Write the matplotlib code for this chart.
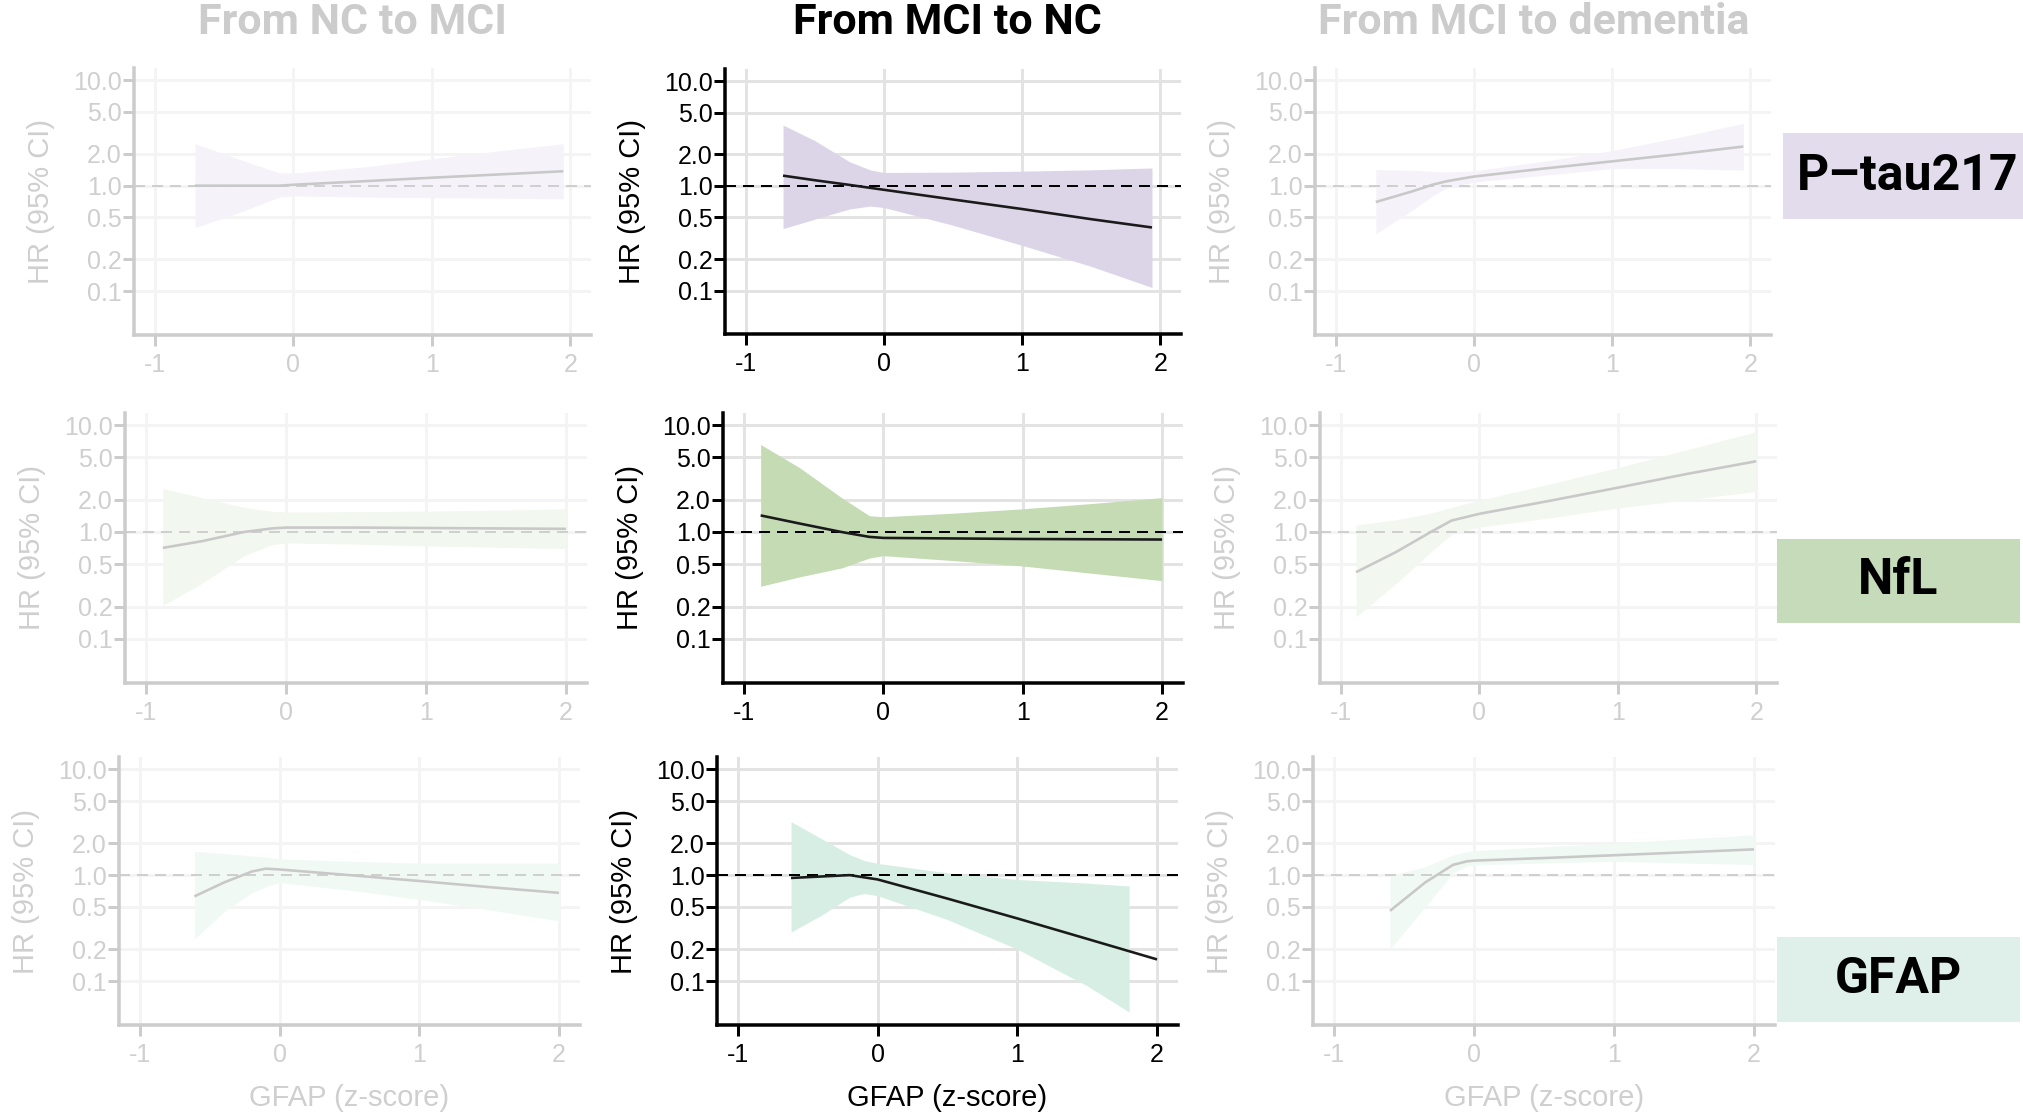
import matplotlib
matplotlib.use("Agg")
import matplotlib.pyplot as plt
from matplotlib.patches import Rectangle
from matplotlib.ticker import NullLocator, FixedLocator, FixedFormatter

# ---------------- data ----------------
col_titles = ["From NC to MCI", "From MCI to NC", "From MCI to dementia"]
row_labels = ["P\u2013tau217", "NfL", "GFAP"]
x_label = "GFAP (z-score)"
y_label = "HR (95% CI)"
y_ticks = [0.1, 0.2, 0.5, 1.0, 2.0, 5.0, 10.0]
y_tick_labels = ["0.1", "0.2", "0.5", "1.0", "2.0", "5.0", "10.0"]
x_ticks = [-1, 0, 1, 2]

# P-tau217, NC -> MCI
ptau_ncmci_x = [-0.71, -0.4, -0.1, 0.0, 0.5, 1.0, 1.5, 1.95]
ptau_ncmci_hr = [1.0, 1.0, 1.0, 1.02, 1.1, 1.19, 1.28, 1.37]
ptau_ncmci_lo = [0.40, 0.55, 0.78, 0.80, 0.78, 0.77, 0.76, 0.75]
ptau_ncmci_hi = [2.5, 1.8, 1.32, 1.32, 1.5, 1.8, 2.15, 2.5]

# P-tau217, MCI -> NC
ptau_mcinc_x = [-0.73, -0.5, -0.25, -0.1, 0.0, 0.5, 1.0, 1.5, 1.94]
ptau_mcinc_hr = [1.25, 1.13, 1.02, 0.956, 0.916, 0.74, 0.60, 0.48, 0.40]
ptau_mcinc_lo = [0.39, 0.48, 0.60, 0.64, 0.62, 0.42, 0.27, 0.17, 0.107]
ptau_mcinc_hi = [3.8, 2.7, 1.7, 1.42, 1.34, 1.35, 1.38, 1.42, 1.48]

# P-tau217, MCI -> dementia
ptau_mcidem_x = [-0.71, -0.45, -0.3, -0.2, 0.0, 0.5, 1.0, 1.5, 1.95]
ptau_mcidem_hr = [0.70, 0.88, 1.02, 1.10, 1.22, 1.45, 1.70, 2.0, 2.35]
ptau_mcidem_lo = [0.35, 0.58, 0.80, 0.95, 1.08, 1.25, 1.45, 1.45, 1.40]
ptau_mcidem_hi = [1.42, 1.40, 1.37, 1.35, 1.38, 1.70, 2.15, 2.9, 3.9]

# NfL, NC -> MCI
nfl_ncmci_x = [-0.88, -0.6, -0.3, -0.1, 0.0, 0.5, 1.0, 1.5, 2.0]
nfl_ncmci_hr = [0.71, 0.82, 1.0, 1.08, 1.10, 1.10, 1.09, 1.08, 1.07]
nfl_ncmci_lo = [0.205, 0.33, 0.60, 0.76, 0.79, 0.77, 0.74, 0.72, 0.70]
nfl_ncmci_hi = [2.55, 2.1, 1.7, 1.56, 1.54, 1.55, 1.57, 1.60, 1.65]

# NfL, MCI -> NC
nfl_mcinc_x = [-0.88, -0.6, -0.3, -0.1, 0.0, 0.5, 1.0, 1.5, 2.0]
nfl_mcinc_hr = [1.43, 1.20, 1.0, 0.90, 0.88, 0.87, 0.86, 0.855, 0.85]
nfl_mcinc_lo = [0.31, 0.38, 0.46, 0.57, 0.60, 0.54, 0.48, 0.41, 0.35]
nfl_mcinc_hi = [6.6, 4.0, 2.1, 1.42, 1.39, 1.50, 1.65, 1.85, 2.1]

# NfL, MCI -> dementia
nfl_mcidem_x = [-0.89, -0.6, -0.35, -0.2, 0.0, 0.5, 1.0, 1.5, 2.0]
nfl_mcidem_hr = [0.42, 0.65, 1.0, 1.28, 1.48, 1.95, 2.6, 3.5, 4.6]
nfl_mcidem_lo = [0.16, 0.33, 0.65, 0.95, 1.11, 1.35, 1.68, 2.0, 2.4]
nfl_mcidem_hi = [1.16, 1.30, 1.50, 1.70, 1.98, 2.8, 4.0, 5.9, 8.7]

# GFAP, NC -> MCI
gfap_ncmci_x = [-0.61, -0.4, -0.2, -0.1, 0.0, 0.5, 1.0, 1.5, 2.0]
gfap_ncmci_hr = [0.63, 0.85, 1.08, 1.15, 1.13, 1.0, 0.88, 0.77, 0.68]
gfap_ncmci_lo = [0.25, 0.45, 0.68, 0.78, 0.85, 0.72, 0.59, 0.47, 0.37]
gfap_ncmci_hi = [1.68, 1.60, 1.52, 1.48, 1.42, 1.35, 1.30, 1.30, 1.30]

# GFAP, MCI -> NC (band stops before the line)
gfap_mcinc_x = [-0.62, -0.2, 0.0, 0.5, 1.0, 1.5, 2.0]
gfap_mcinc_hr = [0.94, 1.0, 0.91, 0.60, 0.39, 0.25, 0.16]
gfap_mcinc_band_x = [-0.62, -0.4, -0.2, -0.1, 0.0, 0.5, 1.0, 1.5, 1.8]
gfap_mcinc_lo = [0.29, 0.42, 0.62, 0.67, 0.64, 0.38, 0.20, 0.09, 0.051]
gfap_mcinc_hi = [3.2, 2.2, 1.56, 1.38, 1.29, 1.05, 0.91, 0.84, 0.79]

# GFAP, MCI -> dementia
gfap_mcidem_x = [-0.60, -0.35, -0.15, -0.05, 0.0, 0.5, 1.0, 1.5, 2.0]
gfap_mcidem_hr = [0.46, 0.85, 1.25, 1.35, 1.37, 1.45, 1.54, 1.64, 1.75]
gfap_mcidem_lo = [0.20, 0.50, 1.05, 1.22, 1.25, 1.30, 1.35, 1.30, 1.26]
gfap_mcidem_hi = [0.99, 1.20, 1.55, 1.66, 1.70, 1.85, 2.0, 2.2, 2.4]

panels = [
    [(ptau_ncmci_x, ptau_ncmci_hr, ptau_ncmci_x, ptau_ncmci_lo, ptau_ncmci_hi),
     (ptau_mcinc_x, ptau_mcinc_hr, ptau_mcinc_x, ptau_mcinc_lo, ptau_mcinc_hi),
     (ptau_mcidem_x, ptau_mcidem_hr, ptau_mcidem_x, ptau_mcidem_lo, ptau_mcidem_hi)],
    [(nfl_ncmci_x, nfl_ncmci_hr, nfl_ncmci_x, nfl_ncmci_lo, nfl_ncmci_hi),
     (nfl_mcinc_x, nfl_mcinc_hr, nfl_mcinc_x, nfl_mcinc_lo, nfl_mcinc_hi),
     (nfl_mcidem_x, nfl_mcidem_hr, nfl_mcidem_x, nfl_mcidem_lo, nfl_mcidem_hi)],
    [(gfap_ncmci_x, gfap_ncmci_hr, gfap_ncmci_x, gfap_ncmci_lo, gfap_ncmci_hi),
     (gfap_mcinc_x, gfap_mcinc_hr, gfap_mcinc_band_x, gfap_mcinc_lo, gfap_mcinc_hi),
     (gfap_mcidem_x, gfap_mcidem_hr, gfap_mcidem_x, gfap_mcidem_lo, gfap_mcidem_hi)],
]

# ---------------- style ----------------
W, H = 2023, 1112
band_strong = ["#dcd5e8", "#c4dbb4", "#d7eee5"]
band_faint = ["#f5f3f9", "#f2f7ef", "#f1f9f5"]
box_colors = ["#e3dcec", "#c5dbb9", "#dff0ea"]

# panel rectangles in pixels: (left, top, right, bottom)
rects = [
    [(134, 68, 591, 335), (725, 69, 1181, 334), (1315, 68, 1771, 335)],
    [(125, 413, 587, 683), (723, 413, 1183, 683), (1320, 413, 1777, 683)],
    [(119, 757, 580, 1025), (717, 757, 1178, 1025), (1313, 757, 1775, 1025)],
]

PX = 72 / 100.0  # points per pixel

fig = plt.figure(figsize=(W / 100, H / 100), dpi=100)
fig.patch.set_facecolor("white")

tick_font = "Liberation Sans"
title_font = "Roboto"

for r in range(3):
    for c in range(3):
        L, T, R, B = rects[r][c]
        ax = fig.add_axes([L / W, 1 - B / H, (R - L) / W, (B - T) / H])
        strong = (c == 1)
        fg = "black" if strong else "#cccccc"
        txt = "black" if strong else "#cfcfcf"
        grid = "#e3e3e3" if strong else "#f4f4f4"
        linec = "#1a1a1a" if strong else "#c8c8c8"
        bandc = band_strong[r] if strong else band_faint[r]

        x, hr, bx, lo, hi = panels[r][c]
        ax.set_yscale("log")
        ax.set_ylim(10 ** -1.415, 10 ** 1.115)
        ax.set_xlim(-1.15, 2.15)
        ax.yaxis.set_major_locator(FixedLocator(y_ticks))
        ax.yaxis.set_major_formatter(FixedFormatter(y_tick_labels))
        ax.yaxis.set_minor_locator(NullLocator())
        ax.set_xticks(x_ticks)
        ax.set_xticklabels([str(v) for v in x_ticks])

        ax.grid(True, color=grid, lw=3 * PX, zorder=0)
        ax.set_axisbelow(True)
        ax.fill_between(bx, lo, hi, color=bandc, lw=0, zorder=1)
        ax.axhline(1.0, color=fg if strong else "#cfcfcf", lw=2 * PX,
                   dashes=(5.5, 3.5), zorder=2)
        ax.plot(x, hr, color=linec, lw=2.6 * PX, zorder=3,
                solid_capstyle="butt", solid_joinstyle="round")

        for s in ["top", "right"]:
            ax.spines[s].set_visible(False)
        for s in ["left", "bottom"]:
            ax.spines[s].set_color(fg)
            ax.spines[s].set_linewidth(3.5 * PX)
        ax.tick_params(axis="both", which="major", length=11 * PX,
                       width=3 * PX, color=fg, labelcolor=txt,
                       labelsize=18)
        ax.tick_params(axis="y", pad=1)
        ax.tick_params(axis="x", pad=5)
        for lab in ax.get_xticklabels() + ax.get_yticklabels():
            lab.set_fontfamily(tick_font)
        ax.set_ylabel(y_label, fontsize=21, color=txt, family=tick_font,
                      labelpad=13)
        if r == 2:
            ax.set_xlabel(x_label, fontsize=21, color=txt, family=tick_font,
                          labelpad=12)
        ax.set_facecolor("white")

# column titles
title_x = [352, 947, 1534]
for c in range(3):
    fig.text(title_x[c] / W, 1 - 23 / H, col_titles[c], ha="center",
             va="center", fontsize=31, fontweight="bold", family=title_font,
             color="black" if c == 1 else "#cccccc")

# row label boxes
boxes = [(1783, 133, 2023, 219), (1777, 539, 2020, 623), (1777, 937, 2020, 1022)]
box_text_x = [1908, 1898, 1898]
for r in range(3):
    L, T, R, B = boxes[r]
    fig.patches.append(Rectangle((L / W, 1 - B / H), (R - L) / W, (B - T) / H,
                                 transform=fig.transFigure, facecolor=box_colors[r],
                                 edgecolor="none", zorder=0))
    fig.text(box_text_x[r] / W, 1 - ((T + B) / 2) / H, row_labels[r],
             ha="center", va="center", fontsize=36, fontweight="bold",
             family=title_font, color="black")

fig.savefig("out.png", dpi=100, facecolor="white")
